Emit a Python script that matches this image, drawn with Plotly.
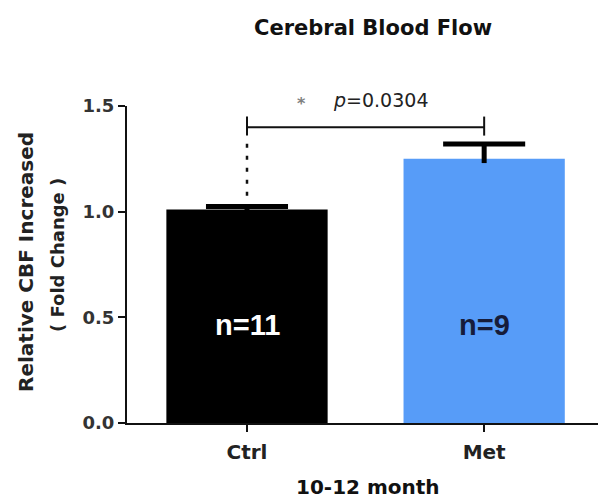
import plotly.graph_objects as go

# Data
groups = ["Ctrl", "Met"]
fold_change = [1.01, 1.25]
sem = [0.015, 0.07]
n_labels = ["n=11", "n=9"]
n_label_colors = ["#ffffff", "#161c3a"]
bar_colors = ["#000000", "#579CF8"]
y_ticks = [0.0, 0.5, 1.0, 1.5]
y_ticklabels = ["0.0", "0.5", "1.0", "1.5"]
p_value = "0.0304"

# Page geometry (pixels)
W, H = 600, 502
L, R, T, B = 127, 2, 106, 79
PW, PH = W - L - R, H - T - B


def px(x):
    return (x - L) / PW


def py(y):
    return (H - B - y) / PH


FONT = "DejaVu Sans"
BAR_WIDTH = 0.68
CAP_HALF = 0.173

fig = go.Figure()
fig.add_trace(go.Bar(
    x=list(range(len(groups))),
    y=fold_change,
    width=BAR_WIDTH,
    marker=dict(color=bar_colors, line=dict(width=0)),
    showlegend=False,
    hoverinfo="skip",
))

# upper SEM whiskers
for i, (m, e) in enumerate(zip(fold_change, sem)):
    fig.add_shape(type="line", xref="x", yref="y", x0=i, x1=i, y0=m - 0.02, y1=m + e,
                  line=dict(color="#000000", width=5))
    fig.add_shape(type="line", xref="x", yref="y", x0=i - CAP_HALF, x1=i + CAP_HALF,
                  y0=m + e, y1=m + e, line=dict(color="#000000", width=5))

# sample sizes inside the bars
for i, (lab, col) in enumerate(zip(n_labels, n_label_colors)):
    fig.add_annotation(x=i, y=0.465, xref="x", yref="y", text=f"<b>{lab}</b>",
                       showarrow=False, xanchor="center", yanchor="middle",
                       font=dict(family="Liberation Sans", size=29, color=col))

# significance bracket between the two groups
br_y, br_lo, br_hi = 1.40, 1.36, 1.45
line_style = dict(color="#111111", width=2)
fig.add_shape(type="line", xref="x", yref="y", x0=0, x1=1, y0=br_y, y1=br_y, line=line_style)
fig.add_shape(type="line", xref="x", yref="y", x0=0, x1=0, y0=br_lo, y1=br_hi, line=line_style)
fig.add_shape(type="line", xref="x", yref="y", x0=1, x1=1, y0=br_lo, y1=br_hi, line=line_style)
fig.add_shape(type="line", xref="x", yref="y", x0=0, x1=0,
              y0=fold_change[0] + sem[0] + 0.05, y1=br_lo - 0.02,
              line=dict(color="#111111", width=2.5, dash="4px,8px"))


def note(x, y, text, size, color="#111111", angle=0, family=FONT):
    fig.add_annotation(x=px(x), y=py(y), xref="paper", yref="paper", text=text,
                       showarrow=False, xanchor="center", yanchor="middle",
                       textangle=angle, font=dict(family=family, size=size, color=color))


note(301, 103, "<b>*</b>", 16, "#808080")
note(380, 100, f"<i>p</i>={p_value}", 19, "#222222")

# titles
note(373, 28, "<b>Cerebral Blood Flow</b>", 21)
note(368, 487, "<b>10-12 month</b>", 20)
note(26, 262, "<b>Relative CBF Increased</b>", 20, "#222222", -90)
note(57, 255, "<b>( Fold Change )</b>", 18, "#222222", -90)

fig.update_xaxes(
    range=[-0.506, 1.48],
    tickvals=list(range(len(groups))), ticktext=groups,
    showline=True, linecolor="#111111", linewidth=2,
    ticks="outside", ticklen=7, tickwidth=2, tickcolor="#111111",
    ticklabelstandoff=3,
    tickfont=dict(family=FONT, size=20, color="#222222", weight="bold"),
    showgrid=False, zeroline=False,
)
fig.update_yaxes(
    range=[0, 1.5], tickvals=y_ticks, ticktext=y_ticklabels,
    showline=True, linecolor="#111111", linewidth=2,
    ticks="outside", ticklen=7, tickwidth=2, tickcolor="#111111",
    tickfont=dict(family=FONT, size=18, color="#333333", weight="bold"),
    showgrid=False, zeroline=False,
)
fig.update_layout(
    width=W, height=H,
    margin=dict(l=L, r=R, t=T, b=B),
    paper_bgcolor="white", plot_bgcolor="white",
)

fig.write_html("out.html")
